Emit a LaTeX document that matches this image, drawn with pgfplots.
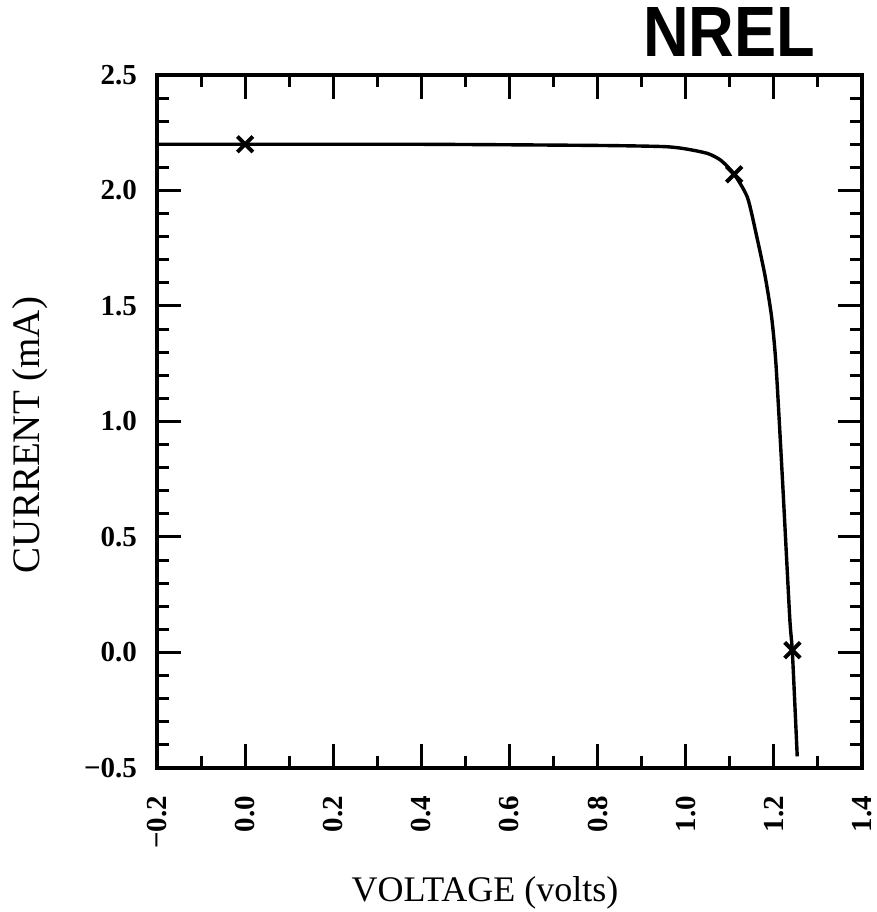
\documentclass[border=0pt]{standalone}
\usepackage{fontspec}
\setmainfont{Liberation Serif}
\newfontfamily\logofont{Liberation Sans}
\usepackage{graphicx}
\usepackage{pgfplots}
\pgfplotsset{compat=1.18}
\begin{document}
\begin{tikzpicture}
\path[use as bounding box] (0,0) rectangle (876pt,912pt);
\begin{axis}[
  at={(157pt,144pt)}, anchor=south west,
  scale only axis, width=705pt, height=693pt,
  xmin=-0.2, xmax=1.4, ymin=-0.5, ymax=2.5,
  xtick={-0.2,0,0.2,0.4,0.6,0.8,1.0,1.2,1.4},
  xticklabels={−0.2,0.0,0.2,0.4,0.6,0.8,1.0,1.2,1.4},
  ytick={-0.5,0,0.5,1,1.5,2,2.5},
  yticklabels={−0.5,0.0,0.5,1.0,1.5,2.0,2.5},
  minor x tick num=1, minor y tick num=4,
  tick align=inside, tick pos=both,
  major tick length=24pt, minor tick length=12pt,
  every tick/.style={line width=3pt, black},
  axis line style={line width=3.8pt},
  tick label style={font=\fontsize{29}{29}\selectfont\bfseries, inner sep=0pt},
  xticklabel style={rotate=90, anchor=east},
  xticklabel shift=28pt,
  yticklabel shift=20pt,
  clip=false,
]
\addplot[black, line width=3.4pt, smooth, tension=0.4] coordinates {
(-0.2,2.20) (0.0,2.20) (0.4,2.20) (0.8,2.195) (0.95,2.19) (1.00,2.18)
(1.05,2.16) (1.08,2.13) (1.11,2.07) (1.14,1.97) (1.16,1.81) (1.18,1.63)
(1.195,1.45) (1.205,1.24) (1.22,0.73) (1.236,0.15) (1.242,0.0) (1.253,-0.45)
};
\addplot[only marks, mark=x, mark size=11pt, mark options={line width=4pt, black}] coordinates {
(0.0,2.20) (1.11,2.07) (1.242,0.01)
};
\end{axis}
\node[font=\fontsize{36}{36}\selectfont, anchor=base] at (485pt,10pt) {VOLTAGE (volts)};
\node[font=\fontsize{39}{39}\selectfont, rotate=90] at (30pt,477pt) {CURRENT (mA)};
\node at (729pt,880pt) {\resizebox{172pt}{49pt}{\logofont\bfseries NREL}};
\end{tikzpicture}
\end{document}
